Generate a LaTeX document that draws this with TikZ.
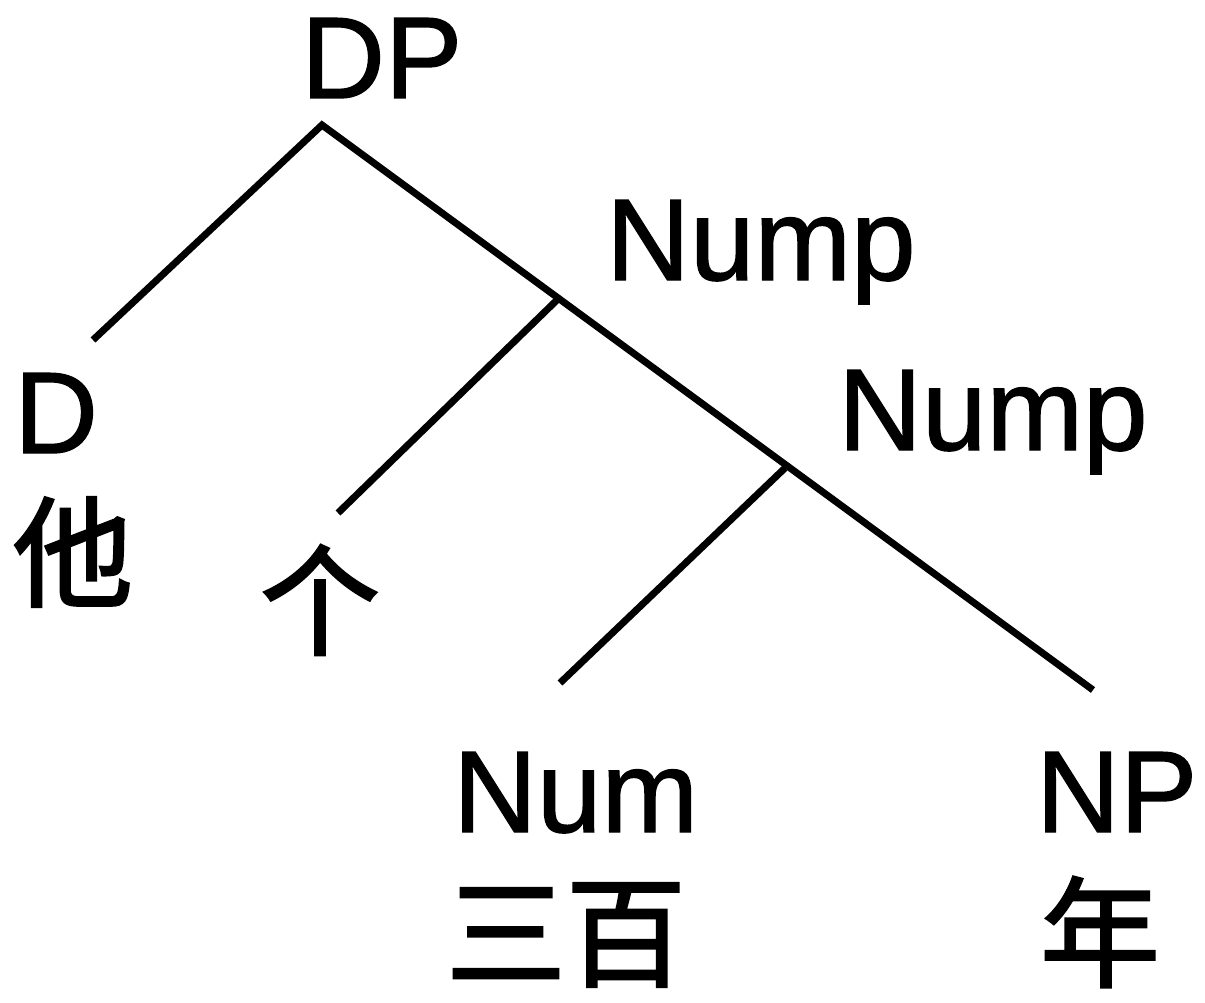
\documentclass[tikz,border=0pt]{standalone}
\usepackage{fontspec}
\setmainfont{Liberation Sans}
\newfontfamily\catfont[FakeBold=1.2]{Liberation Sans}
\newfontfamily\cjk[FakeBold=2]{Noto Sans CJK SC}
\usetikzlibrary{positioning}
\tikzset{
    cat/.style={font=\catfont\fontsize{116}{120}\selectfont, inner sep=0pt, anchor=base west},
    word/.style={font=\cjk\fontsize{120}{124}\selectfont, inner sep=0pt},
    branch/.style={line width=7pt, black},
}

\begin{document}
\begin{tikzpicture}[x=1pt, y=-1pt]
\useasboundingbox (0,0) rectangle (1205,1003);

% ═══ CATEGORY LABELS ═══
\node[cat] (dp) at (301,98) {DP};
\node[cat] (nump1) at (606,280) {Nump};
\node[cat] (nump2) at (838,450) {Nump};
\node[cat] (d) at (14,453) {D};
\node[cat] (num) at (453,832) {Num};
\node[cat] (np) at (1036,832) {NP};

% ═══ WORDS ═══
\node[word] (ta) at (73,552) {他};
\node[word] (ge) at (320,600) {个};
\node[word] (sanbai) at (566,935) {三百};
\node[word] (nian) at (1100,932) {年};

% Branching points and branch ends
\coordinate (dpTop) at (322,125);
\coordinate (n1Top) at (557,300);
\coordinate (n2Top) at (785,468);
\coordinate (dEnd) at (93,340);
\coordinate (geEnd) at (338,513);
\coordinate (numEnd) at (560,683);
\coordinate (npEnd) at (1093,690);

% Branches
\draw[branch] (dEnd) -- (dpTop) -- (npEnd);
\draw[branch] (n1Top) -- (geEnd);
\draw[branch] (n2Top) -- (numEnd);

\end{tikzpicture}
\end{document}
